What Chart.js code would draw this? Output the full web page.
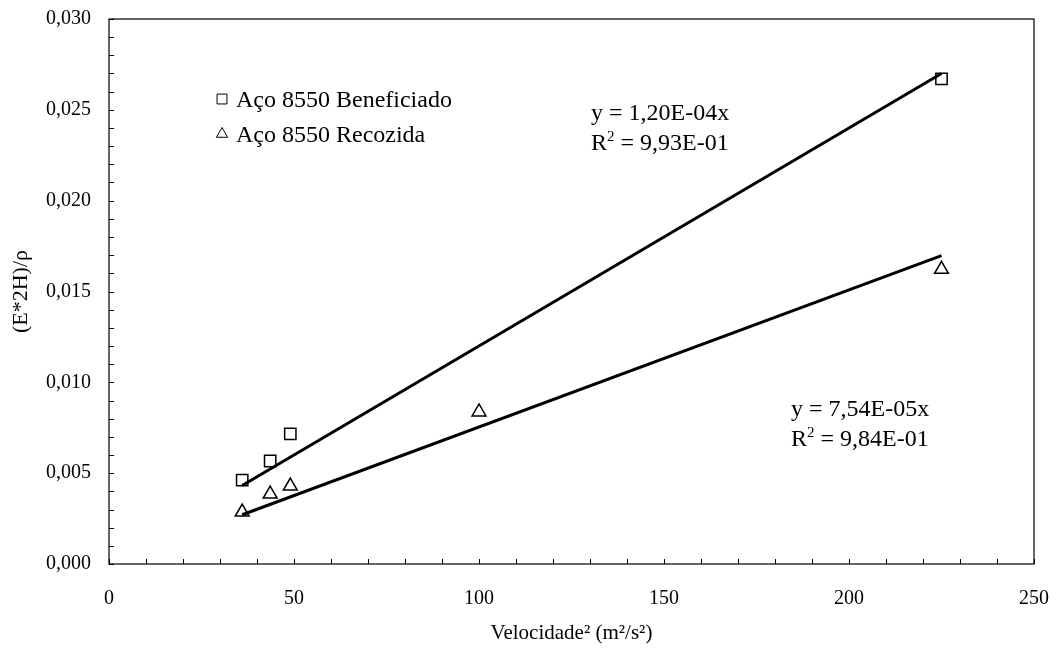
<!DOCTYPE html>
<html><head><meta charset="utf-8">
<script src="https://cdn.jsdelivr.net/npm/chart.js@4/dist/chart.umd.min.js"></script>
<style>html,body{margin:0;padding:0;background:#fff}#wrap{width:1057px;height:648px}</style>
</head><body><div id="wrap"><canvas id="c" width="1057" height="648"></canvas></div>
<script>
// ---- data ----
const velSqBenef = [36, 43.56, 49, 225];
const beneficiado = [0.00462, 0.00567, 0.00716, 0.0267];
const velSqRec = [36, 43.56, 49, 100, 225];
const recozida = [0.00286, 0.00385, 0.00429, 0.00837, 0.01622];
const trendX = [36, 225];
const trendBenef = [0.00432, 0.0270];
const trendRec = [0.00271, 0.01697];
const seriesNames = ['Aço 8550 Beneficiado', 'Aço 8550 Recozida'];
const eqBenef = ['y = 1,20E-04x', '9,93E-01'];
const eqRec = ['y = 7,54E-05x', '9,84E-01'];
const xTitle = 'Velocidade² (m²/s²)';
const yTitle = '(E*2H)/ρ';
const xMin = 0, xMax = 250, xMinorStep = 10, xMajorStep = 50;
const yMin = 0, yMax = 0.030, yMinorStep = 0.001, yMajorEvery = 5;

const FONT = 'Liberation Serif';
const pts = (xs, ys) => xs.map((x, i) => ({x: x, y: ys[i]}));

const frameTicks = {
  id: 'frameTicks',
  afterDraw(chart) {
    const ctx = chart.ctx, a = chart.chartArea;
    ctx.save();
    ctx.strokeStyle = '#000';
    ctx.lineWidth = 1.2;
    ctx.strokeRect(a.left, a.top, a.right - a.left, a.bottom - a.top);
    ctx.beginPath();
    chart.scales.x.ticks.forEach(t => {
      const px = Math.round(chart.scales.x.getPixelForValue(t.value)) + 0.5;
      ctx.moveTo(px, a.bottom); ctx.lineTo(px, a.bottom - 5);
    });
    chart.scales.y.ticks.forEach(t => {
      const py = Math.round(chart.scales.y.getPixelForValue(t.value)) + 0.5;
      ctx.moveTo(a.left, py); ctx.lineTo(a.left + 5, py);
    });
    ctx.lineWidth = 1;
    ctx.stroke();
    ctx.restore();
  }
};

function drawR2(ctx, x, y, val, size) {
  ctx.font = size + 'px "' + FONT + '"';
  ctx.fillText('R', x, y);
  const w = ctx.measureText('R').width;
  ctx.font = Math.round(size * 0.62) + 'px "' + FONT + '"';
  ctx.fillText('2', x + w, y - size * 0.38);
  const w2 = ctx.measureText('2').width;
  ctx.font = size + 'px "' + FONT + '"';
  ctx.fillText(' = ' + val, x + w + w2, y);
}

const annot = {
  id: 'annot',
  afterDraw(chart) {
    const ctx = chart.ctx;
    ctx.save();
    ctx.textBaseline = 'alphabetic';
    const size = 24;
    const H = Chart.helpers;
    ctx.strokeStyle = '#000';
    ctx.fillStyle = 'rgba(255,255,255,0)';
    H.drawPoint(ctx, {pointStyle: 'rect', radius: 7, borderWidth: 1.3, rotation: 0}, 222, 99);
    H.drawPoint(ctx, {pointStyle: 'triangle', radius: 6.5, borderWidth: 1.3, rotation: 0}, 222, 134);
    ctx.fillStyle = '#000';
    ctx.font = size + 'px "' + FONT + '"';
    ctx.fillText(seriesNames[0], 236, 107);
    ctx.fillText(seriesNames[1], 236, 142);
    ctx.fillText(eqBenef[0], 591, 120);
    drawR2(ctx, 591, 150, eqBenef[1], size);
    ctx.fillText(eqRec[0], 791, 416);
    drawR2(ctx, 791, 446, eqRec[1], size);
    ctx.restore();
  }
};

new Chart(document.getElementById('c'), {
  type: 'scatter',
  data: {
    datasets: [
      {label: seriesNames[0], data: pts(velSqBenef, beneficiado), pointStyle: 'rect', pointRadius: 8,
       borderColor: '#000', backgroundColor: 'rgba(255,255,255,0)', borderWidth: 1.5, order: 1},
      {label: seriesNames[1], data: pts(velSqRec, recozida), pointStyle: 'triangle', pointRadius: 8,
       borderColor: '#000', backgroundColor: 'rgba(255,255,255,0)', borderWidth: 1.5, order: 1},
      {type: 'line', label: 't1', data: pts(trendX, trendBenef), showLine: true, borderColor: '#000',
       borderWidth: 3, pointRadius: 0, fill: false, order: 2},
      {type: 'line', label: 't2', data: pts(trendX, trendRec), showLine: true, borderColor: '#000',
       borderWidth: 3, pointRadius: 0, fill: false, order: 2}
    ]
  },
  options: {
    responsive: false, animation: false, devicePixelRatio: 1,
    layout: {padding: {top: 19, right: 23, left: 0, bottom: 0}},
    plugins: {legend: {display: false}, tooltip: {enabled: false}},
    scales: {
      x: {
        type: 'linear', min: xMin, max: xMax,
        afterFit(s) { s.height = 84; s.paddingLeft = 0; s.paddingRight = 0; },
        grid: {display: false, drawTicks: false}, border: {display: false},
        ticks: {stepSize: xMinorStep, autoSkip: false, maxRotation: 0, padding: 23, color: '#000',
          font: {family: FONT, size: 20},
          callback: v => (Math.round(v) % xMajorStep === 0 ? String(Math.round(v)) : '')},
        title: {display: true, text: xTitle, color: '#000', font: {family: FONT, size: 21},
          padding: {top: 0, bottom: 2}}
      },
      y: {
        type: 'linear', min: yMin, max: yMax,
        afterFit(s) { s.width = 109; s.paddingTop = 0; s.paddingBottom = 0; },
        grid: {display: false, drawTicks: false}, border: {display: false},
        ticks: {stepSize: yMinorStep, autoSkip: false, padding: 18, color: '#000',
          font: {family: FONT, size: 20},
          callback: v => { const k = Math.round(v / yMinorStep); return k % yMajorEvery === 0 ? (k * yMinorStep).toFixed(3).replace('.', ',') : ''; }},
        title: {display: true, text: yTitle, color: '#000', font: {family: FONT, size: 22},
          padding: {top: 8, bottom: 0}}
      }
    }
  },
  plugins: [frameTicks, annot]
});
</script>
</body></html>
